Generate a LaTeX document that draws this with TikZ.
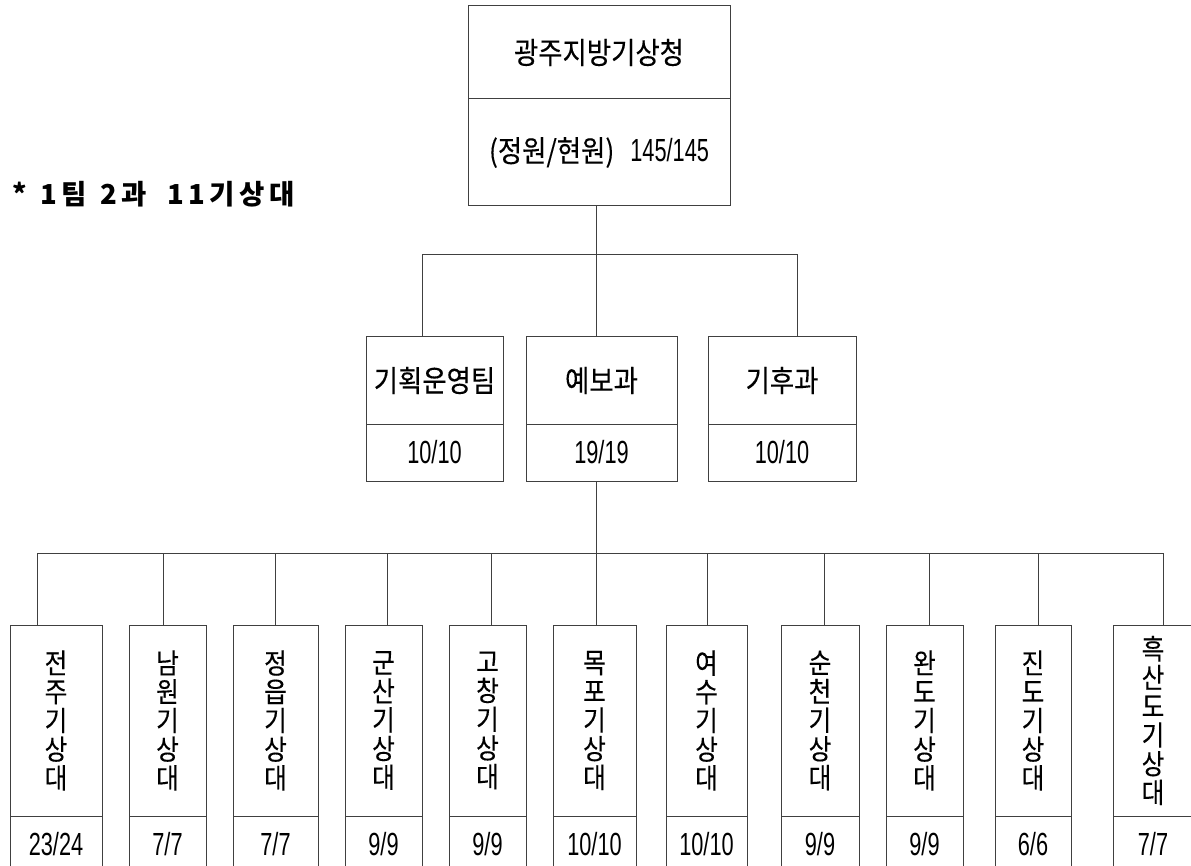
\documentclass[tikz,border=0pt]{standalone}
\usepackage{fontspec}
\newfontfamily\kr[FakeStretch=0.88, FakeBold=0.25]{Noto Sans CJK KR}
\newfontfamily\krb[LetterSpace=16]{Noto Sans CJK KR}
\newfontfamily\dg[FakeStretch=0.68]{Liberation Sans}
\newcommand\K{\kr\fontsize{28pt}{28.7pt}\selectfont}
\newcommand\KH{\kr\fontsize{30pt}{30pt}\selectfont}
\newcommand\D{\dg\fontsize{32pt}{32pt}\selectfont}
\newcommand\HB{\krb\bfseries\fontsize{27.5pt}{27.5pt}\selectfont}
\tikzset{
  ln/.style={draw=black!75, line width=1pt},
  cell/.style={draw=black!75, line width=1pt, inner sep=0pt, outer sep=0pt,
    anchor=north west, align=center, text=black},
}
\begin{document}
\begin{tikzpicture}[x=1pt,y=-1pt]
\path[use as bounding box, clip] (0,0) rectangle (1191,866);
\fill[white] (0,0) rectangle (1191,866);

% heading note
\node[font=\HB, anchor=west, inner sep=0pt] (note) at (12,194) {*\hspace{14pt}1팀\hspace{13pt}2과\hspace{21pt}11기상대};

% top
\node[cell, minimum width=262pt, minimum height=93pt, font=\KH] (hq) at (468,6) {광주지방기상청};
\node[cell, minimum width=262pt, minimum height=107pt] (hqv) at (468,99) {{\KH(정원/현원)}\hspace{16pt}{\D 145/145}};

% second level
\node[cell, minimum width=137pt, minimum height=87pt, font=\KH] (t1) at (366,337) {기획운영팀};
\node[cell, minimum width=137pt, minimum height=57pt, font=\D] (t1v) at (366,424) {10/10};
\node[cell, minimum width=151pt, minimum height=87pt, font=\KH] (t2) at (526,337) {예보과};
\node[cell, minimum width=151pt, minimum height=57pt, font=\D] (t2v) at (526,424) {19/19};
\node[cell, minimum width=148pt, minimum height=87pt, font=\KH] (t3) at (708,337) {기후과};
\node[cell, minimum width=148pt, minimum height=57pt, font=\D] (t3v) at (708,424) {10/10};

% bottom level
\node[cell, minimum width=92pt, minimum height=191pt, font=\K] (b1) at (10,625) {전\\주\\기\\상\\대};
\node[cell, minimum width=92pt, minimum height=56pt, font=\D] (b1v) at (10,816) {23/24};
\node[cell, minimum width=77pt, minimum height=191pt, font=\K] (b2) at (129,625) {남\\원\\기\\상\\대};
\node[cell, minimum width=77pt, minimum height=56pt, font=\D] (b2v) at (129,816) {7/7};
\node[cell, minimum width=85pt, minimum height=191pt, font=\K] (b3) at (233,625) {정\\읍\\기\\상\\대};
\node[cell, minimum width=85pt, minimum height=56pt, font=\D] (b3v) at (233,816) {7/7};
\node[cell, minimum width=77pt, minimum height=191pt, font=\K] (b4) at (345,625) {군\\산\\기\\상\\대};
\node[cell, minimum width=77pt, minimum height=56pt, font=\D] (b4v) at (345,816) {9/9};
\node[cell, minimum width=77pt, minimum height=191pt, font=\K] (b5) at (449,625) {고\\창\\기\\상\\대};
\node[cell, minimum width=77pt, minimum height=56pt, font=\D] (b5v) at (449,816) {9/9};
\node[cell, minimum width=83pt, minimum height=191pt, font=\K] (b6) at (553,625) {목\\포\\기\\상\\대};
\node[cell, minimum width=83pt, minimum height=56pt, font=\D] (b6v) at (553,816) {10/10};
\node[cell, minimum width=81pt, minimum height=191pt, font=\K] (b7) at (666,625) {여\\수\\기\\상\\대};
\node[cell, minimum width=81pt, minimum height=56pt, font=\D] (b7v) at (666,816) {10/10};
\node[cell, minimum width=78pt, minimum height=191pt, font=\K] (b8) at (781,625) {순\\천\\기\\상\\대};
\node[cell, minimum width=78pt, minimum height=56pt, font=\D] (b8v) at (781,816) {9/9};
\node[cell, minimum width=77pt, minimum height=191pt, font=\K] (b9) at (886,625) {완\\도\\기\\상\\대};
\node[cell, minimum width=77pt, minimum height=56pt, font=\D] (b9v) at (886,816) {9/9};
\node[cell, minimum width=76pt, minimum height=191pt, font=\K] (b10) at (995,625) {진\\도\\기\\상\\대};
\node[cell, minimum width=76pt, minimum height=56pt, font=\D] (b10v) at (995,816) {6/6};
\node[cell, minimum width=80pt, minimum height=191pt, font=\K] (b11) at (1113,625) {흑\\산\\도\\기\\상\\대};
\node[cell, minimum width=80pt, minimum height=56pt, font=\D] (b11v) at (1113,816) {7/7};

% connectors, upper
\coordinate (j1) at (596,255);
\coordinate (ja) at (422,255);
\coordinate (jb) at (797,255);
\draw[ln] (j1 |- hqv.south) -- (j1 |- t2.north);
\draw[ln] (ja |- t1.north) -- (ja) -- (jb) -- (jb |- t3.north);

% connectors, lower
\coordinate (k1) at (37,553);
\coordinate (k2) at (163,553);
\coordinate (k3) at (275,553);
\coordinate (k4) at (387,553);
\coordinate (k5) at (491,553);
\coordinate (k6) at (596,553);
\coordinate (k7) at (707,553);
\coordinate (k8) at (824,553);
\coordinate (k9) at (929,553);
\coordinate (k10) at (1038,553);
\coordinate (k11) at (1163,553);
\draw[ln] (k6 |- t2v.south) -- (k6 |- b6.north);
\draw[ln] (k1) -- (k11);
\foreach \i in {1,2,3,4,5,7,8,9,10,11} {
  \draw[ln] (k\i) -- (k\i |- b\i.north);
}
\end{tikzpicture}
\end{document}
